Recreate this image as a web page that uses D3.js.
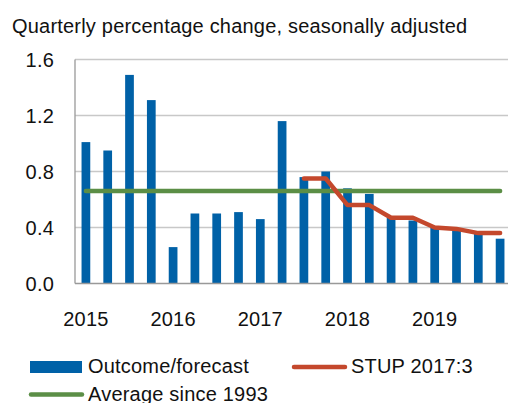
<!DOCTYPE html>
<meta charset='utf-8'>
<style>
  body { margin: 0; background: #fff; }
  text { font-family: "Liberation Sans", Arial, Helvetica, sans-serif; fill: #111; font-size: 20px; letter-spacing: 0.2px; }
</style>
<svg width="508" height="403"></svg>
<script src="https://d3js.org/d3.v7.min.js"></script>
<script>

// quarters 2015Q1 .. 2019Q4
var quarters = ["2015Q1","2015Q2","2015Q3","2015Q4","2016Q1","2016Q2","2016Q3","2016Q4",
                "2017Q1","2017Q2","2017Q3","2017Q4","2018Q1","2018Q2","2018Q3","2018Q4",
                "2019Q1","2019Q2","2019Q3","2019Q4"];
var outcome = [1.01, 0.95, 1.49, 1.31, 0.26, 0.50, 0.50, 0.51, 0.46, 1.16,
               0.76, 0.80, 0.68, 0.64, 0.47, 0.45, 0.40, 0.38, 0.36, 0.32];
// STUP 2017:3 forecast, from 2017Q3
var stupQuarters = quarters.slice(10);
var stup = [0.75, 0.75, 0.56, 0.56, 0.47, 0.47, 0.40, 0.39, 0.36, 0.36];
var average = 0.66;
var yTicks = [0, 0.4, 0.8, 1.2, 1.6];
var yearLabels = ["2015","2016","2017","2018","2019"];

var svg = d3.select("svg");

var x = d3.scaleBand()
  .domain(quarters)
  .range([75, 511])
  .paddingInner(0.6)
  .paddingOuter(0.3);

var y = d3.scaleLinear()
  .domain([0, 1.6])
  .range([283.5, 59.5]);

var xc = function(q) { return x(q) + x.bandwidth() / 2; };

// title
svg.append("text")
  .attr("x", 12)
  .attr("y", 33)
  .text("Quarterly percentage change, seasonally adjusted");

// gridlines
svg.append("g")
  .selectAll("line")
  .data(yTicks.filter(function(d) { return d > 0; }))
  .enter()
  .append("line")
  .attr("x1", 75)
  .attr("x2", 508)
  .attr("y1", function(d) { return y(d); })
  .attr("y2", function(d) { return y(d); })
  .style("stroke", "#c8c8c8")
  .style("stroke-width", 1.3);

// y axis labels
svg.append("g")
  .selectAll("text")
  .data(yTicks)
  .enter()
  .append("text")
  .attr("x", 54)
  .attr("y", function(d) { return y(d); })
  .attr("dy", "0.36em")
  .attr("text-anchor", "end")
  .text(function(d) { return d3.format(".1f")(d); });

// bars
svg.append("g")
  .selectAll("rect")
  .data(outcome)
  .enter()
  .append("rect")
  .attr("x", function(d, i) { return x(quarters[i]); })
  .attr("width", x.bandwidth())
  .attr("y", function(d) { return y(d); })
  .attr("height", function(d) { return y(0) - y(d); })
  .attr("fill", "#0061a7");

// axes lines
svg.append("line")
  .attr("x1", 75).attr("x2", 75)
  .attr("y1", y(1.6)).attr("y2", y(0))
  .style("stroke", "#999").style("stroke-width", 1.3);
svg.append("line")
  .attr("x1", 75).attr("x2", 508)
  .attr("y1", y(0)).attr("y2", y(0))
  .style("stroke", "#999").style("stroke-width", 1.3);

// average line
svg.append("line")
  .attr("x1", xc(quarters[0]))
  .attr("x2", xc(quarters[quarters.length - 1]))
  .attr("y1", y(average))
  .attr("y2", y(average))
  .style("stroke", "#5b8e46")
  .style("stroke-width", 4.5)
  .style("stroke-linecap", "round");

// STUP line
var line = d3.line()
  .x(function(d, i) { return xc(stupQuarters[i]); })
  .y(function(d) { return y(d); });

svg.append("path")
  .datum(stup)
  .attr("d", line)
  .attr("fill", "none")
  .style("stroke", "#c4482c")
  .style("stroke-width", 4.5)
  .style("stroke-linecap", "round")
  .style("stroke-linejoin", "round");

// year labels under Q1 bars
svg.append("g")
  .selectAll("text")
  .data(yearLabels)
  .enter()
  .append("text")
  .attr("x", function(d) { return xc(d + "Q1"); })
  .attr("y", 326)
  .attr("text-anchor", "middle")
  .text(function(d) { return d; });

// legend
var lg = svg.append("g");
lg.append("rect")
  .attr("x", 30).attr("y", 361)
  .attr("width", 52).attr("height", 12)
  .attr("fill", "#0061a7");
lg.append("text")
  .attr("x", 88).attr("y", 373)
  .text("Outcome/forecast");
lg.append("line")
  .attr("x1", 294).attr("x2", 345)
  .attr("y1", 367).attr("y2", 367)
  .style("stroke", "#c4482c").style("stroke-width", 4.5)
  .style("stroke-linecap", "round");
lg.append("text")
  .attr("x", 351).attr("y", 373)
  .text("STUP 2017:3");
lg.append("line")
  .attr("x1", 31).attr("x2", 82)
  .attr("y1", 394.5).attr("y2", 394.5)
  .style("stroke", "#5b8e46").style("stroke-width", 4.5)
  .style("stroke-linecap", "round");
lg.append("text")
  .attr("x", 88).attr("y", 401)
  .text("Average since 1993");

</script>
